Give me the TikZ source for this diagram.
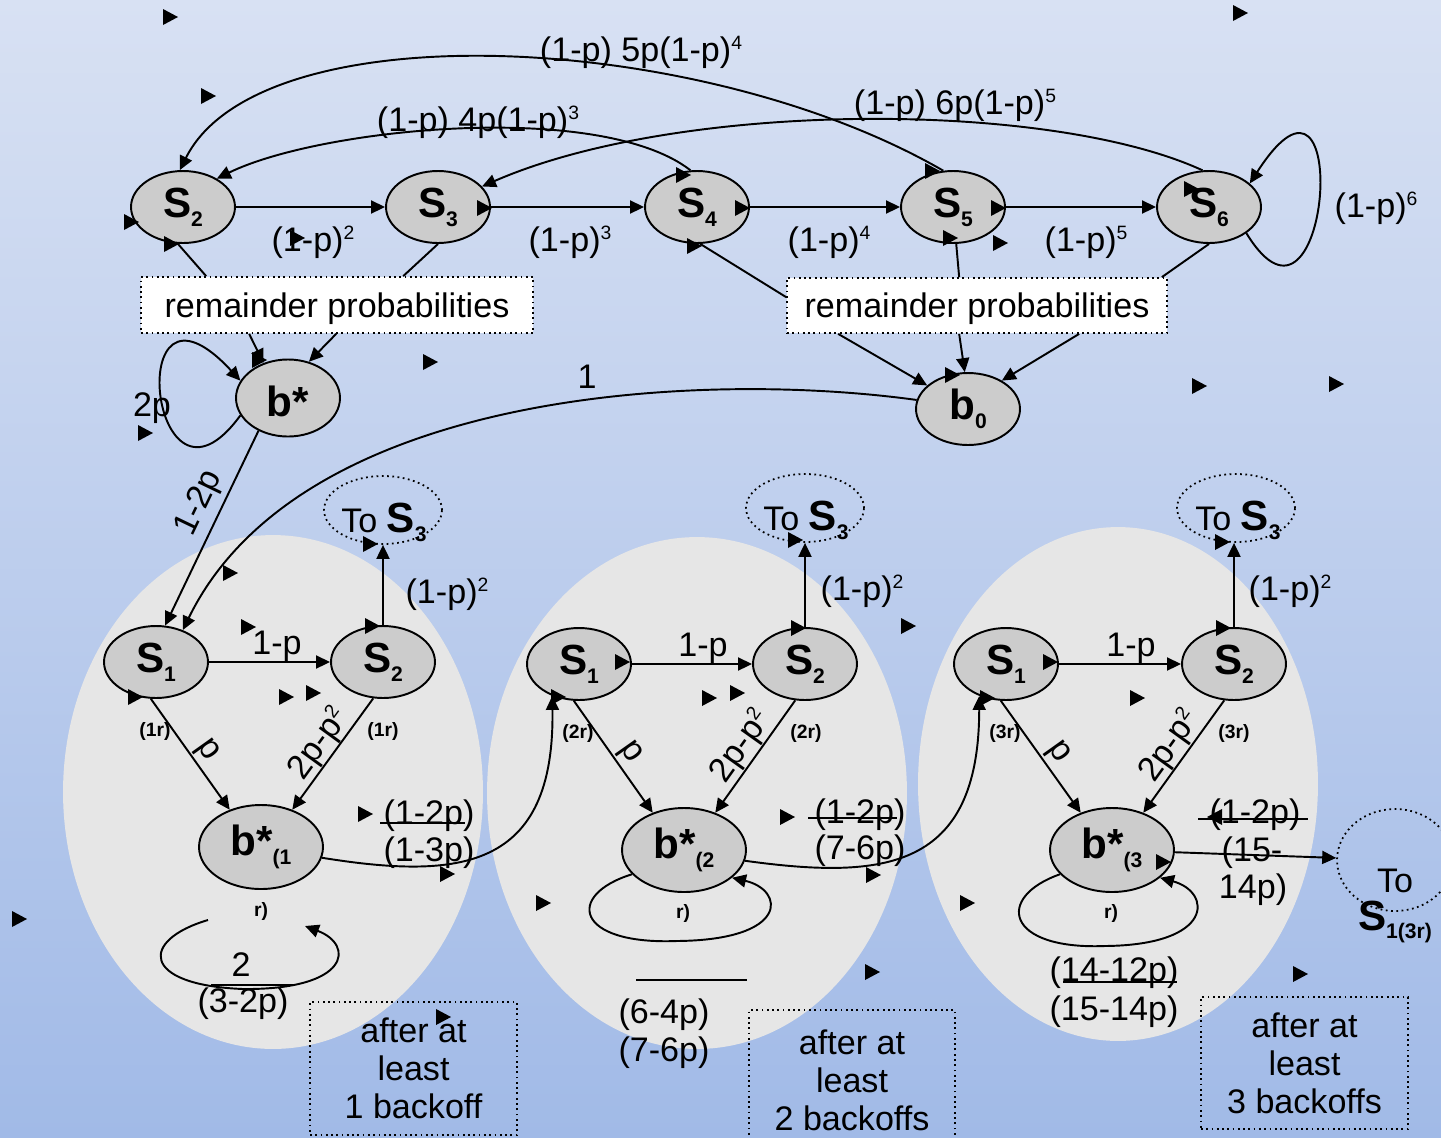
\documentclass[tikz,border=0pt]{standalone}
\usepackage{fontspec}
\setmainfont{Liberation Sans}
\usetikzlibrary{shapes.geometric, arrows.meta, positioning, calc}
\definecolor{chainTop}{RGB}{216,225,243}
\definecolor{chainBottom}{RGB}{161,186,231}
\definecolor{stateGray}{RGB}{204,204,204}
\definecolor{groupGray}{RGB}{230,230,230}
\newcommand{\bigsub}[2]{\textbf{\fontsize{24}{24}\selectfont #1\raisebox{-5pt}{\fontsize{12}{12}\selectfont #2}}}
\newcommand{\pw}[1]{\raisebox{0.35em}{\fontsize{11}{11}\selectfont #1}}

\begin{document}
\begin{tikzpicture}[x=0.02cm, y=-0.02cm,
    state/.style={ellipse, draw, fill=stateGray, line width=1.1pt, minimum width=2.08cm, minimum height=1.44cm, inner sep=0pt},
    bstate/.style={state, minimum width=2.48cm, minimum height=1.68cm},
    goal/.style={ellipse, draw, dotted, line width=1pt, minimum width=2.36cm, minimum height=1.36cm, inner sep=0pt},
    remain/.style={draw, dotted, fill=white, line width=1pt, inner sep=0pt, text depth=0pt, font=\fontsize{19.4}{21.6}\selectfont},
    note/.style={draw, dotted, line width=1pt, align=center, inner sep=0pt, font=\fontsize{19.4}{21.6}\selectfont},
    arrow/.style={-{Triangle[length=0.28cm, width=0.26cm]}, line width=1.1pt},
    link/.style={line width=1.1pt},
    strike/.style={line width=1pt},
    lbl/.style={inner sep=0pt, font=\fontsize{19.4}{21.6}\selectfont},
    tag/.style={inner sep=0pt, font=\fontsize{11}{13}\selectfont\bfseries}
  ]
  \useasboundingbox (0,0) rectangle (1441,1137);
  \clip (0,0) rectangle (1441,1137);
  \shade[top color=chainTop, bottom color=chainBottom] (0,0) rectangle (1441,1137);

  % backoff groups
  \fill[groupGray] (273,792) ellipse [x radius=4.2cm, y radius=5.14cm];
  \fill[groupGray] (697,793) ellipse [x radius=4.2cm, y radius=5.12cm];
  \fill[groupGray] (1118,784) ellipse [x radius=4cm, y radius=5.14cm];

  % top chain
  \node[state] (tS2) at (183,207) {\bigsub{S}{2}};
  \node[state] (tS3) at (438,207) {\bigsub{S}{3}};
  \node[state] (tS4) at (697,207) {\bigsub{S}{4}};
  \node[state] (tS5) at (953,207) {\bigsub{S}{5}};
  \node[state] (tS6) at (1209,207) {\bigsub{S}{6}};
  \node[state] (bstar) at (288,398) {\bigsub{\rule{0pt}{26pt}b*}{}};
  \node[state] (b0) at (968,409) {\bigsub{b}{0}};
  \node[remain, minimum width=7.84cm, minimum height=1.12cm] (remL) at (337,305) {remainder probabilities};
  \node[remain, minimum width=7.6cm, minimum height=1.1cm] (remR) at (977,305.5) {remainder probabilities};

  \draw[arrow] (tS2) -- (tS3);
  \draw[arrow] (tS3) -- (tS4);
  \draw[arrow] (tS4) -- (tS5);
  \draw[arrow] (tS5) -- (tS6);
  \node[lbl] (w2) at (313,242) {(1-p)\pw{2}};
  \node[lbl] (w3) at (570,242) {(1-p)\pw{3}};
  \node[lbl] (w4) at (829,242) {(1-p)\pw{4}};
  \node[lbl] (w5) at (1086,242) {(1-p)\pw{5}};

  \draw[arrow] (tS5.105) .. controls (700,30) and (260,10) .. (tS2.95);
  \draw[arrow] (tS4.100) .. controls (600,100) and (320,128) .. (tS2.40);
  \draw[arrow] (tS6.100) .. controls (1050,100) and (680,100) .. (tS3.25);
  \draw[arrow] (tS6.-35) .. controls (1330,370) and (1355,20) .. (tS6.30);
  \node[lbl] (k5) at (641,52) {(1-p) 5p(1-p)\pw{4}};
  \node[lbl] (k4) at (478,122) {(1-p) 4p(1-p)\pw{3}};
  \node[lbl] (k6) at (955,105) {(1-p) 6p(1-p)\pw{5}};
  \node[lbl] (w6) at (1376,208) {(1-p)\pw{6}};

  \draw[link] (tS2.262) -- ($(remL.north west)+(66,0)$);
  \draw[link] (tS3.south) -- ($(remL.north west)+(263,0)$);
  \draw[arrow] ($(remL.south west)+(109,0)$) -- (bstar.125);
  \draw[arrow] ($(remL.south west)+(196,0)$) -- (bstar.60);
  \draw[arrow] (bstar.200) .. controls (150,540) and (120,250) .. (bstar.160);
  \node[lbl] (w2p) at (152,408) {2p};

  \draw[link] (tS4.275) -- ($(remR.north west)+(0,20)$);
  \draw[link] (tS5.275) -- ($(remR.north west)+(173,0)$);
  \draw[link] (tS6.south) -- ($(remR.north east)+(-6,0)$);
  \draw[arrow] ($(remR.south west)+(52,0)$) -- (b0.150);
  \draw[arrow] ($(remR.south west)+(173,0)$) -- (b0.95);
  \draw[arrow] ($(remR.south west)+(293,0)$) -- (b0.40);

  % group 1
  \node[state] (g1S1) at (156,662) {\bigsub{S}{1}};
  \node[state] (g1S2) at (383,662) {\bigsub{S}{2}};
  \node[bstate] (g1b) at (261,847) {\bigsub{b*}{(1}};
  \node[goal] (g1to) at (383,510) {};
  \node[lbl] (g1tolbl) at (384,522) {To \bigsub{S}{3}};

  \draw[arrow] (bstar.228) -- node[lbl, sloped, above=3pt, pos=0.42] (q0) {1-2p} (g1S1.76);
  \draw[arrow] (b0.170) .. controls (700,370) and (300,390) .. (g1S1.50);
  \node[lbl] (w1) at (587,377) {1};

  \draw[arrow] (g1S1) -- (g1S2);
  \draw[arrow] (g1S2) -- (g1to);
  \draw[arrow] (g1S1.262) -- node[lbl, sloped, above=1pt, pos=0.55] (q1p) {p} (g1b.130);
  \draw[arrow] (g1S2.255) -- node[lbl, sloped, above=0pt] (q1q) {2p-p\pw{2}} (g1b.50);
  \node[lbl] (h1) at (277,646) {1-p};
  \node[lbl] (v1) at (447,594) {(1-p)\pw{2}};
  \node[tag] (t1a) at (155,731) {(1r)};
  \node[tag] (t1b) at (383,731) {(1r)};
  \node[tag] (u1) at (261,911) {r)};
  \coordinate (c1a) at (208,920);
  \coordinate (c1b) at (305,926);
  \draw[arrow] (c1a) .. controls (140,940) and (140,985) .. (243,989) .. controls (350,990) and (355,945) .. (c1b);
  \node[lbl] (f1n) at (241,965) {2};
  \draw[strike] (211,985) -- (295,985);
  \node[lbl] (f1d) at (243,1004) {(3-2p)};
  \node[lbl] (r1a) at (429,816) {(1-2p)};
  \draw[strike] (380,823) -- (465,823);
  \node[lbl] (r1b) at (429,853) {(1-3p)};
  \node[note, minimum width=4.14cm, minimum height=2.66cm] (n1) at (413.5,1068.5) {after at\\least\\1 backoff};

  % group 2
  \node[state] (g2S1) at (579,664) {\bigsub{S}{1}};
  \node[state] (g2S2) at (805,664) {\bigsub{S}{2}};
  \node[bstate] (g2b) at (684,850) {\bigsub{b*}{(2}};
  \node[goal] (g2to) at (805,508) {};
  \node[lbl] (g2tolbl) at (806,520) {To \bigsub{S}{3}};

  \draw[arrow] (g2S1) -- (g2S2);
  \draw[arrow] (g2S2) -- (g2to);
  \draw[arrow] (g2S1.262) -- node[lbl, sloped, above=1pt, pos=0.55] (q2p) {p} (g2b.130);
  \draw[arrow] (g2S2.255) -- node[lbl, sloped, above=0pt] (q2q) {2p-p\pw{2}} (g2b.50);
  \node[lbl] (h2) at (703,648) {1-p};
  \node[lbl] (v2) at (862,591) {(1-p)\pw{2}};
  \node[tag] (t2a) at (578,733) {(2r)};
  \node[tag] (t2b) at (806,733) {(2r)};
  \node[tag] (u2) at (683,913) {r)};
  \draw[arrow] (g2b.205) .. controls (565,895) and (575,945) .. (677,941) .. controls (790,940) and (785,890) .. (g2b.-30);
  \draw[strike] (636,980) -- (747,980);
  \node[lbl] (f2a) at (664,1015) {(6-4p)};
  \node[lbl] (f2b) at (664,1053) {(7-6p)};
  \node[lbl] (r2a) at (860,815) {(1-2p)};
  \draw[strike] (808,818) -- (897,818);
  \node[lbl] (r2b) at (860,851) {(7-6p)};
  \node[note, minimum width=4.12cm, minimum height=2.8cm] (n2) at (852,1080) {after at\\least\\2 backoffs};

  % group 3
  \node[state] (g3S1) at (1006,664) {\bigsub{S}{1}};
  \node[state] (g3S2) at (1234,664) {\bigsub{S}{2}};
  \node[bstate] (g3b) at (1112,850) {\bigsub{b*}{(3}};
  \node[goal] (g3to) at (1236,508) {};
  \node[lbl] (g3tolbl) at (1238,520) {To \bigsub{S}{3}};
  \node[goal, minimum width=2.32cm, minimum height=2.04cm] (g3out) at (1395,860) {};

  \draw[arrow] (g3S1) -- (g3S2);
  \draw[arrow] (g3S2) -- (g3S2 |- g3to.south);
  \draw[arrow] (g3S1.262) -- node[lbl, sloped, above=1pt, pos=0.55] (q3p) {p} (g3b.130);
  \draw[arrow] (g3S2.255) -- node[lbl, sloped, above=0pt] (q3q) {2p-p\pw{2}} (g3b.50);
  \node[lbl] (h3) at (1131,648) {1-p};
  \node[lbl] (v3) at (1290,591) {(1-p)\pw{2}};
  \node[tag] (t3a) at (1005,733) {(3r)};
  \node[tag] (t3b) at (1234,733) {(3r)};
  \node[tag] (u3) at (1111,913) {r)};
  \draw[arrow] (g3b.205) .. controls (995,897) and (1005,950) .. (1105,946) .. controls (1215,945) and (1212,892) .. (g3b.-30);
  \node[lbl] (f3a) at (1114,973) {(14-12p)};
  \draw[strike] (1063,982) -- (1177,982);
  \node[lbl] (f3b) at (1114,1012) {(15-14p)};
  \draw[arrow] (g3b) -- (g3out);
  \node[lbl, align=center] (g3outlbl) at (1395,906) {To\\\bigsub{S}{1(3r)}};
  \node[lbl] (r3a) at (1255,815) {(1-2p)};
  \draw[strike] (1198,819) -- (1308,819);
  \node[lbl] (r3b) at (1252,853) {(15-};
  \node[lbl] (r3c) at (1253,890) {14p)};
  \node[note, minimum width=4.14cm, minimum height=2.64cm] (n3) at (1304.5,1063) {after at\\least\\3 backoffs};

  % from one group to the next
  \draw[arrow] (g1b.-10) .. controls (460,880) and (555,870) .. (g2S1.230);
  \draw[arrow] (g2b.-10) .. controls (884,880) and (979,870) .. (g3S1.230);

  % loose arrow tips
  \foreach \tx/\ty in {170/17, 1240/13, 208/96, 131/222, 297/238, 484/208, 742/208, 998/208,
      683/175, 932/171, 1191/189, 171/244, 694/246, 950/238, 1000/243, 430/362, 145/433,
      259/360, 952/375, 1199/386, 1336/384, 230/573, 248/627, 286/697, 313/693, 19/919,
      365/814, 447/874, 443/1017, 372/626, 370/544, 135/697, 622/662, 558/697, 709/698,
      737/693, 798/628, 908/626, 787/817, 873/875, 543/903, 795/540, 872/972, 1050/662,
      987/698, 1137/698, 1223/628, 1163/862, 967/903, 1222/542, 1300/974}
    \fill (\tx,\ty) ++(-7,-8) -- ++(15,8) -- ++(-15,8) -- cycle;
  \fill (1215,817) ++(7,-8) -- ++(-15,8) -- ++(15,8) -- cycle;
\end{tikzpicture}
\end{document}
